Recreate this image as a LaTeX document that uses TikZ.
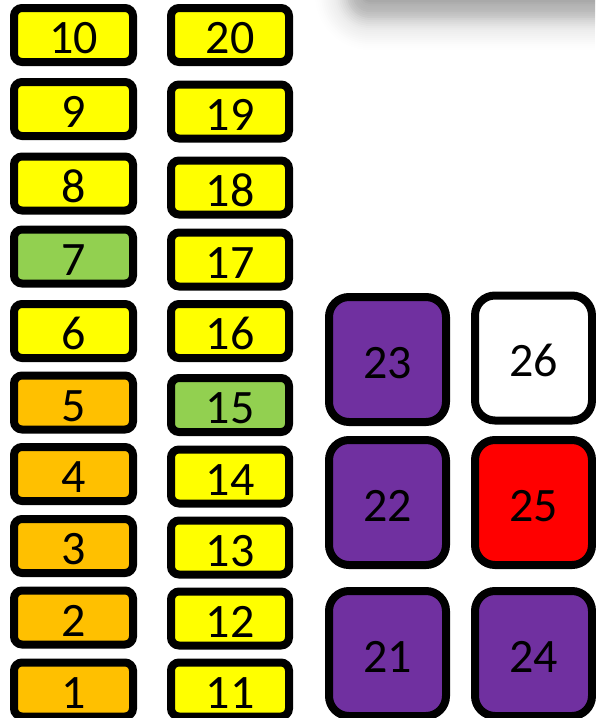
\documentclass[tikz,border=0pt]{standalone}
\usepackage{fontspec}
\setmainfont{Carlito}
\definecolor{cyel}{HTML}{FFFF00}
\definecolor{corg}{HTML}{FFC000}
\definecolor{cgrn}{HTML}{92D050}
\definecolor{cpur}{HTML}{7030A0}
\definecolor{cred}{HTML}{FF0000}
\tikzset{
  smallbox/.style={draw=black, line width=8pt, rounded corners=8pt, inner sep=0pt,
    minimum width=119pt, minimum height=54pt, text height=37pt, text depth=0pt,
    font=\fontsize{48}{48}\selectfont},
  bigbox/.style={draw=black, line width=8pt, rounded corners=20pt, inner sep=0pt,
    minimum width=117pt, minimum height=125pt, text height=37pt, text depth=0pt,
    font=\fontsize{48}{48}\selectfont},
}
\begin{document}
\begin{tikzpicture}[x=1pt,y=-1pt]
\useasboundingbox (0,0) rectangle (595,718);
% soft shadow at the top right, built from stacked translucent layers
\begin{scope}
\clip (0,0) rectangle (595,718);
\foreach \r/\a in {1/0.02,3/0.02,5/0.02,7/0.018,9/0.018,11/0.018,13/0.018,15/0.024,
  17/0.03,19/0.03,21/0.03,23/0.03,25/0.024,27/0.018,29/0.018,31/0.018,33/0.014,
  35/0.01,37/0.008,39/0.008,41/0.008,43/0.007,45/0.006,47/0.006,49/0.006,
  51/0.005,53/0.004,55/0.003}
  \fill[black, opacity=\a, rounded corners=\r pt] (370-\r,-200) rectangle (700,-5+\r);
\end{scope}
% left column
\node[smallbox, fill=cyel] (n10) at (73.5,35) {10};
\node[smallbox, fill=cyel] (n9) at (73.5,109) {9};
\node[smallbox, fill=cyel] (n8) at (73.5,183.5) {8};
\node[smallbox, fill=cgrn] (n7) at (73.5,256.5) {7};
\node[smallbox, fill=cyel] (n6) at (73.5,331) {6};
\node[smallbox, fill=corg] (n5) at (73.5,402.5) {5};
\node[smallbox, fill=corg] (n4) at (73.5,474) {4};
\node[smallbox, fill=corg] (n3) at (73.5,546) {3};
\node[smallbox, fill=corg] (n2) at (73.5,617.5) {2};
\node[smallbox, fill=corg] (n1) at (73.5,689.5) {1};
% second column
\node[smallbox, fill=cyel, minimum width=118pt] (n20) at (230,35) {20};
\node[smallbox, fill=cyel, minimum width=118pt] (n19) at (230,111.5) {19};
\node[smallbox, fill=cyel, minimum width=118pt] (n18) at (230,187.5) {18};
\node[smallbox, fill=cyel, minimum width=118pt] (n17) at (230,259.5) {17};
\node[smallbox, fill=cyel, minimum width=118pt] (n16) at (230,331) {16};
\node[smallbox, fill=cgrn, minimum width=118pt] (n15) at (230,405) {15};
\node[smallbox, fill=cyel, minimum width=118pt] (n14) at (230,476.5) {14};
\node[smallbox, fill=cyel, minimum width=118pt] (n13) at (230,547.5) {13};
\node[smallbox, fill=cyel, minimum width=118pt] (n12) at (230,618.5) {12};
\node[smallbox, fill=cyel, minimum width=118pt] (n11) at (230,689.5) {11};
% big boxes
\node[bigbox, fill=cpur] (n23) at (387.5,359.5) {23};
\node[bigbox, fill=white] (n26) at (533.5,358) {26};
\node[bigbox, fill=cpur] (n22) at (387.5,502.5) {22};
\node[bigbox, fill=cred] (n25) at (533.5,502.5) {25};
\node[bigbox, fill=cpur] (n21) at (387.5,653.5) {21};
\node[bigbox, fill=cpur] (n24) at (533.5,653.5) {24};
\end{tikzpicture}
\end{document}
